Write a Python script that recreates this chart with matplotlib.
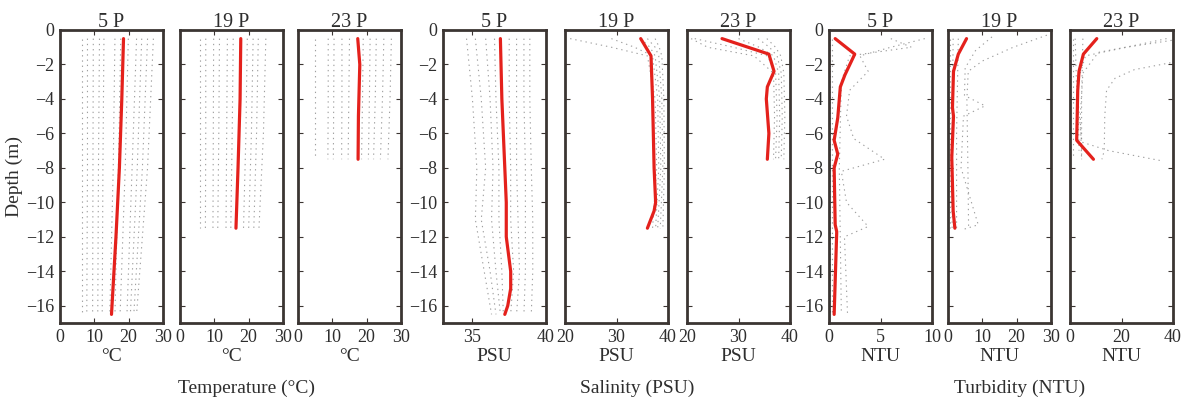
import matplotlib.pyplot as plt

plt.rcParams['font.family'] = ['Liberation Serif', 'DejaVu Serif']
plt.rcParams['text.color'] = '#333333'

TEXT = '#2e2e2e'
FRAME = '#3b3532'
RED = '#e4211c'
GREY = '#7f7f7f'

# station names (panel titles) and units
stations = ['5 P', '19 P', '23 P']
units = ['°C', 'PSU', 'NTU']
groups = ['Temperature (°C)', 'Salinity (PSU)', 'Turbidity (NTU)']

# mean profiles (depth in m, value)
temp_depth = [[-0.5, -4, -8, -12, -16.5],
              [-0.5, -4, -8, -11.5],
              [-0.5, -2, -5, -7.5]]
temp_mean = [[18.5, 18.0, 17.3, 16.3, 15.0],
             [17.7, 17.5, 16.9, 16.3],
             [17.4, 18.0, 17.6, 17.5]]

sal_depth = [[-0.5, -4, -8, -10, -12, -14, -15, -16, -16.5],
             [-0.5, -1.5, -4, -8, -10, -10.5, -11.5],
             [-0.5, -1.4, -2.4, -3.3, -4, -6, -7.5]]
sal_mean = [[36.9, 37.0, 37.2, 37.3, 37.3, 37.6, 37.6, 37.4, 37.2],
            [34.7, 36.7, 37.0, 37.3, 37.6, 37.3, 36.0],
            [26.8, 35.9, 36.9, 35.6, 35.4, 35.9, 35.6]]

turb_depth = [[-0.5, -1.4, -2.6, -3.3, -5.1, -6.4, -7.2, -8.0, -11.3, -11.7, -16.5],
              [-0.5, -1.4, -2.4, -4.5, -5.0, -7.4, -10.5, -11.5],
              [-0.5, -1.4, -2.4, -3.5, -6.4, -7.5]]
turb_mean = [[0.6, 2.5, 1.55, 1.1, 0.85, 0.5, 0.85, 0.5, 0.6, 0.75, 0.5],
             [5.4, 3.0, 1.6, 1.3, 1.6, 1.1, 1.5, 2.0],
             [10.4, 5.2, 3.5, 3.0, 2.6, 9.1]]

# individual casts behind the means: (depths, values) per cast
temp_casts = [
    [([-0.5, -8, -16.5], v) for v in
     [[6.3, 6.3, 6.3], [8.0, 8.0, 7.8], [9.7, 9.6, 9.5], [11.5, 11.2, 11.0],
      [12.8, 12.5, 12.3], [16.0, 15.5, 14.5], [17.7, 17.0, 16.0],
      [19.9, 19.0, 17.5], [22.3, 21.0, 19.5], [23.8, 22.5, 20.5],
      [25.5, 24.0, 21.5], [27.2, 25.5, 22.3]]],
    [([-0.5, -6, -11.5], v) for v in
     [[5.8, 5.8, 5.8], [7.5, 7.5, 7.4], [9.8, 9.7, 9.6], [11.5, 11.3, 11.0],
      [13.8, 13.6, 13.4], [15.5, 15.2, 14.8], [19.6, 19.2, 18.5],
      [21.3, 20.8, 20.0], [22.8, 22.3, 21.5], [25.0, 24.3, 23.0]]],
    [([-0.5, -4, -7.5], v) for v in
     [[5.0, 5.0, 5.0], [8.8, 8.8, 8.7], [10.5, 10.4, 10.3], [12.8, 12.8, 12.7],
      [15.0, 14.8, 14.6], [19.0, 18.8, 18.5], [21.0, 20.8, 20.5],
      [22.8, 22.5, 22.0], [25.0, 24.6, 24.0], [27.2, 26.8, 26.2]]],
]

sal_casts = [
    [([-0.5, -4, -8, -11, -14, -16.5], v) for v in
     [[34.6, 35.0, 35.3, 35.2, 35.8, 36.3], [35.2, 35.6, 35.9, 35.6, 36.2, 36.6],
      [35.9, 36.2, 36.4, 36.3, 36.6, 36.9], [36.5, 36.6, 36.8, 36.8, 37.0, 37.1],
      [37.5, 37.5, 37.6, 37.6, 37.8, 37.6], [38.0, 38.0, 38.0, 38.1, 38.2, 38.0],
      [38.5, 38.5, 38.6, 38.6, 38.6, 38.5], [38.9, 38.9, 39.0, 39.1, 39.1, 39.0]]],
    [([-0.5, -1.0, -1.5, -4, -8, -11.5], v) for v in
     [[21.0, 29.0, 36.0, 37.5, 37.8, 37.0], [29.0, 33.5, 37.0, 38.0, 38.2, 37.6],
      [34.7, 36.5, 37.5, 38.4, 38.6, 38.0], [36.0, 37.5, 38.2, 38.8, 39.0, 38.5],
      [37.5, 38.3, 38.8, 39.2, 39.3, 39.0]]],
    [([-0.5, -1.0, -1.5, -2.5, -5, -7.5], v) for v in
     [[20.8, 24.0, 33.0, 36.8, 37.0, 36.8], [21.5, 29.0, 35.6, 37.2, 37.5, 37.2],
      [30.0, 34.0, 36.8, 37.8, 38.0, 37.8], [33.8, 36.0, 37.5, 38.3, 38.5, 38.3],
      [35.5, 37.2, 38.2, 38.8, 39.0, 38.8]]],
]

turb_casts = [
    [([-0.5, -1.0, -1.5, -2.4, -3.5, -5.0, -6.3, -7.5, -8.2, -10.0, -11.4, -12.0, -16.5],
      [9.3, 6.0, 3.0, 3.8, 2.0, 1.7, 2.4, 5.4, 1.2, 1.7, 3.8, 1.5, 1.8]),
     ([-0.5, -1.0, -1.5, -3.0, -8.0, -16.5], [6.0, 8.0, 2.0, 1.2, 1.0, 1.2]),
     ([-0.5, -8, -16.5], [0.1, 0.1, 0.1]),
     ([-0.5, -8, -16.5], [0.3, 0.3, 0.3])],
    [([-0.3, -1.0, -1.8, -2.4, -4.0, -8.0, -11.5], [28.8, 19.0, 10.0, 5.9, 5.5, 5.8, 6.0]),
     ([-0.4, -1.2, -2.2, -3.8, -4.4, -5.0, -8.0, -11.3, -11.6],
      [12.8, 8.0, 5.0, 4.8, 10.8, 4.5, 3.8, 8.8, 4.0]),
     ([-0.5, -6, -11.5], [0.5, 0.5, 0.5]),
     ([-0.5, -6, -11.5], [1.5, 1.2, 1.2]),
     ([-0.5, -6, -11.5], [3.0, 2.5, 2.5])],
    [([-0.5, -0.9, -1.3, -2.5, -5, -7.5], [37.5, 25.0, 11.0, 5.0, 4.0, 4.5]),
     ([-0.6, -1.0, -1.5, -3.0, -7.0], [39.5, 22.0, 6.0, 3.0, 3.5]),
     ([-1.9, -2.3, -2.8, -3.5, -5.0, -7.0, -7.5], [39.0, 25.0, 17.5, 14.2, 13.5, 13.3, 12.4]),
     ([-0.5, -3.0, -6.5, -7.0, -7.6], [2.0, 2.5, 4.5, 15.0, 36.0]),
     ([-0.5, -4, -7.5], [1.0, 1.0, 1.0]),
     ([-0.5, -4, -7.5], [5.0, 4.5, 4.5])],
]

xlims = [[(0, 30)] * 3, [(33, 40), (20, 40), (20, 40)], [(0, 10), (0, 30), (0, 40)]]
xticks = [[[0, 10, 20, 30]] * 3,
          [[35, 40], [20, 30, 40], [20, 30, 40]],
          [[0, 5, 10], [0, 10, 20, 30], [0, 20, 40]]]
depth_ticks = [0, -2, -4, -6, -8, -10, -12, -14, -16]

W, H = 1183, 404
fig = plt.figure(figsize=(W / 100, H / 100), dpi=100)

lefts = [[60, 180, 298], [443, 565, 687], [829, 948, 1070]]
label_x = [246, 637, 1020]
top_px, bottom_px, width_px = 30, 323, 103

means = [(temp_depth, temp_mean), (sal_depth, sal_mean), (turb_depth, turb_mean)]
casts = [temp_casts, sal_casts, turb_casts]

for g in range(3):
    depths, values = means[g]
    for i in range(3):
        ax = fig.add_axes([lefts[g][i] / W, 1 - bottom_px / H,
                           width_px / W, (bottom_px - top_px) / H])
        for d, v in casts[g][i]:
            ax.plot(v, d, color=GREY, lw=0.8, dashes=(1.2, 3.5), alpha=0.75)
        ax.plot(values[i], depths[i], color=RED, lw=2.3, solid_capstyle='round')

        ax.set_xlim(*xlims[g][i])
        ax.set_ylim(-17, 0)
        ax.set_xticks(xticks[g][i])
        ax.set_yticks(depth_ticks)
        ax.tick_params(direction='in', length=3.5, width=0.8, color=FRAME,
                       top=True, right=True, labelsize=13, labelcolor=TEXT, pad=4)
        if i > 0:
            ax.tick_params(labelleft=False)
        for s in ax.spines.values():
            s.set_linewidth(2.0)
            s.set_color(FRAME)
        ax.set_title(stations[i], fontsize=14.5, color=TEXT, pad=2)
        ax.set_xlabel(units[g], fontsize=14, color=TEXT, labelpad=2)
        if g == 0 and i == 0:
            ax.set_ylabel('Depth (m)', fontsize=14, color=TEXT, labelpad=2)

    fig.text(label_x[g] / W, 1 - 388 / H, groups[g], ha='center', va='center',
             fontsize=14, color=TEXT)

fig.savefig('out.png', dpi=100)
